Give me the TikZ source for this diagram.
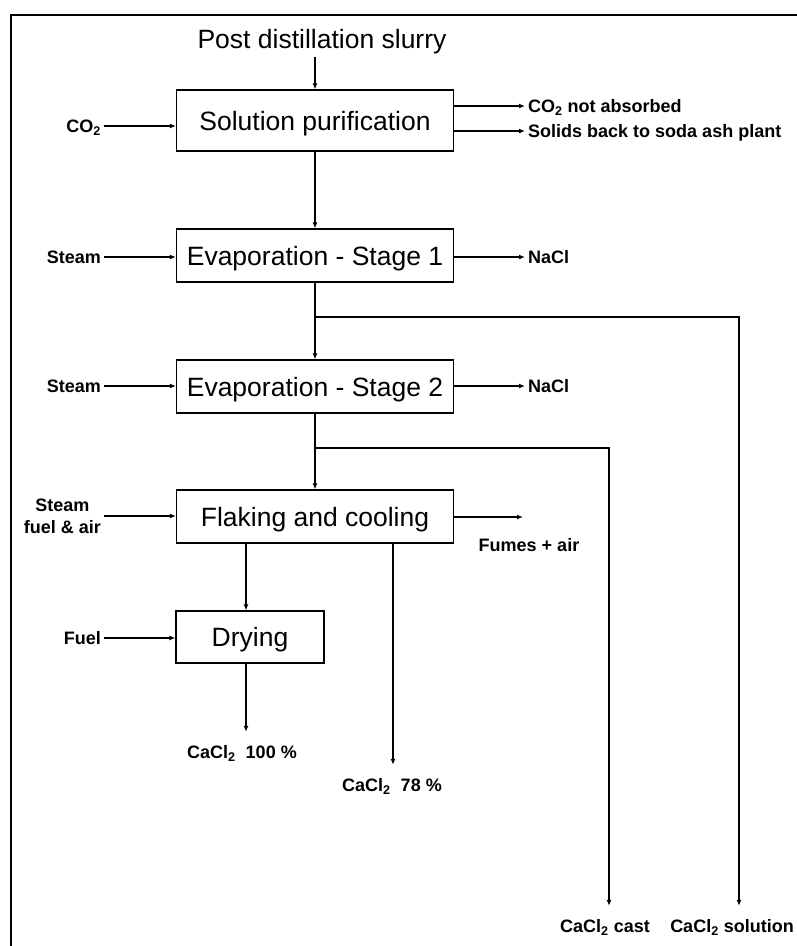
\documentclass[tikz,border=0pt]{standalone}
\usepackage{fontspec}
\setmainfont{Liberation Sans}
\usetikzlibrary{arrows.meta,calc}
\tikzset{
  unit/.style={draw,line width=1.2pt,minimum width=277pt,minimum height=53pt,inner sep=0pt,
    font=\fontsize{26.5}{30}\selectfont,text height=19pt,text depth=0pt},
  flow/.style={line width=1.2pt,-{Latex[length=6pt,width=5pt]}},
  pipe/.style={line width=1.2pt},
  lbl/.style={font=\bfseries\fontsize{18}{22}\selectfont,inner sep=3pt,text height=13pt,text depth=0pt},
  prod/.style={lbl,inner ysep=13.5pt}
}

\begin{document}
\begin{tikzpicture}[x=1pt,y=-1pt,line join=miter]
  \useasboundingbox (0,0) rectangle (796,946);
  \draw[line width=2.5pt] (11,950) -- (11,15) -- (800,15);
  \node[anchor=base,inner sep=3pt,font=\fontsize{26.5}{30}\selectfont] (slurry) at (322,48) {Post distillation slurry};
  \node[unit,minimum height=61pt] (purif) at (315,120.5) {Solution purification};
  \node[unit] (evapA) at (315,255.5) {Evaporation - Stage 1};
  \node[unit] (evapB) at (315,386.5) {Evaporation - Stage 2};
  \node[unit] (flake) at (315,516.5) {Flaking and cooling};
  \node[unit,minimum width=148pt,minimum height=52pt] (dry) at (250,637) {Drying};
  \node[lbl,anchor=east] (co2in) at (104,126) {CO\textsubscript{2}};
  \node[lbl,anchor=east] (steamA) at (104,257) {Steam};
  \node[lbl,anchor=east] (steamB) at (104,386) {Steam};
  \node[font=\bfseries\fontsize{18}{22}\selectfont,inner sep=3pt,align=center,anchor=east] (steamC) at (104,516) {Steam\\fuel \& air};
  \node[lbl,anchor=east] (fuel) at (104,638) {Fuel};
  \node[lbl,anchor=west] (co2out) at (525,106) {CO\textsubscript{2} not absorbed};
  \node[lbl,anchor=west] (solids) at (525,131) {Solids back to soda ash plant};
  \node[lbl,anchor=west] (naclA) at (525,257) {NaCl};
  \node[lbl,anchor=west] (naclB) at (525,386) {NaCl};
  \node[lbl] (fumes) at (529,545) {Fumes + air};
  \node[prod] (cacl100) at (242,752) {CaCl\textsubscript{2}~~100 \%};
  \node[prod] (cacl78) at (392,785) {CaCl\textsubscript{2}~~78 \%};
  \node[prod] (cast) at (605,926) {CaCl\textsubscript{2} cast};
  \node[prod] (soln) at (732,926) {CaCl\textsubscript{2} solution};
  \coordinate (splitA) at (315,317);\coordinate (splitB) at (315,448);\coordinate (fumestip) at (523,517);
  \draw[flow] (purif.north |- slurry.south) -- (purif.north);
  \foreach \n/\b in {co2in/purif,steamA/evapA,steamB/evapB,steamC/flake,fuel/dry}{\draw[flow] (\n.east) -- (\b.west |- \n.east);}
  \foreach \b/\n in {purif/co2out,purif/solids,evapA/naclA,evapB/naclB}{\draw[flow] (\b.east |- \n.west) -- (\n.west);}
  \draw[flow] (purif) -- (evapA);
  \draw[pipe] (evapA.south) -- (splitA);
  \draw[flow] (splitA) -- (evapB.north);
  \draw[flow] (splitA) -| ([xshift=7pt]soln.north);
  \draw[pipe] (evapB.south) -- (splitB);
  \draw[flow] (splitB) -- (flake.north);
  \draw[flow] (splitB) -| ([xshift=4pt]cast.north);
  \draw[flow] (flake.east |- fumestip) -- (fumestip);
  \draw[flow] ([xshift=-69pt]flake.south) -- ([xshift=-4pt]dry.north);
  \draw[flow] ([xshift=-4pt]dry.south) -- ([xshift=-4pt]dry.south |- cacl100.north);
  \draw[flow] ([xshift=78pt]flake.south) -- ([xshift=78pt]flake.south |- cacl78.north);
\end{tikzpicture}
\end{document}
